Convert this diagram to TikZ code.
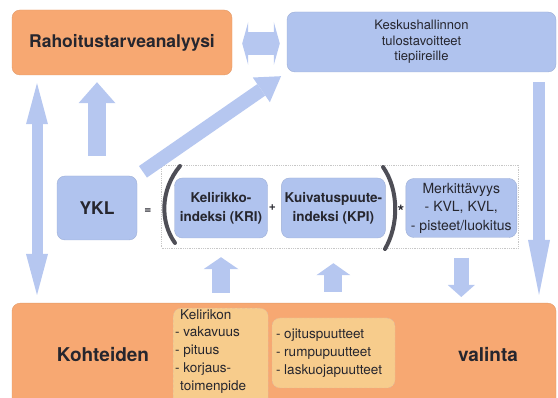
\documentclass[tikz,border=0pt]{standalone}
\usepackage{fontspec}
\setmainfont{TeX Gyre Heros}
\usepackage{xcolor}
\definecolor{boxorange}{RGB}{247,168,114}
\definecolor{boxblue}{RGB}{176,195,238}
\definecolor{arrowblue}{RGB}{182,199,240}
\definecolor{suborange}{RGB}{247,204,140}
\definecolor{parengray}{RGB}{78,78,86}
\definecolor{textgray}{RGB}{38,38,46}
\usepackage{tikz}
\usetikzlibrary{arrows.meta, positioning}
\tikzset{
    panel/.style={
        rectangle, rounded corners=8pt,
        inner sep=2pt, align=center,
        text=textgray
    },
    obox/.style={
        panel,
        fill=boxorange, draw=boxorange!92!black
    },
    bbox/.style={
        panel,
        fill=boxblue, draw=boxblue!90!black
    },
    subbox/.style={rectangle, rounded corners=8pt, fill=suborange,
        draw=boxorange!80!black!60, densely dashed, inner sep=0pt},
    subtext/.style={align=left, inner sep=0pt, text=textgray,
        font=\fontsize{13.5}{17.8}\selectfont},
    dotframe/.style={rectangle, draw=black!22, densely dotted, thick, inner sep=0pt},
    op/.style={inner sep=0pt, text=textgray, font=\bfseries\fontsize{12}{14}\selectfont},
    idx/.style={bbox, minimum height=60pt, font=\bfseries\fontsize{13.5}{19}\selectfont},
    paren/.style={draw=parengray, line width=4pt, line cap=round},
    blk/.style n args={3}{
        draw=arrowblue, line width=#1,
        -{Triangle[width=#2, length=#3, line width=0pt]}
    },
    dblk/.style n args={3}{
        draw=arrowblue, line width=#1,
        {Triangle[width=#2, length=#3, line width=0pt]}-{Triangle[width=#2, length=#3, line width=0pt]}
    },
}

\begin{document}
\begin{tikzpicture}[x=1pt, y=-1pt]
    \clip (0,0) rectangle (558,398);
    % Draw top row
    \node[obox, minimum width=220pt, minimum height=65pt,
        font=\bfseries\fontsize{17.5}{20}\selectfont] (rah) at (122,42.5) {Rahoitustarveanalyysi};
    \node[bbox, minimum width=269pt, minimum height=60pt,
        font=\fontsize{13}{15.5}\selectfont] (kesk) at (421.5,42) {Keskushallinnon\\tulostavoitteet\\tiepiireille};

    % Draw index formula
    \node[dotframe, minimum width=357pt, minimum height=83pt] (frame) at (340,206.5) {};
    \node[bbox, minimum width=80pt, minimum height=64pt,
        font=\bfseries\fontsize{17.5}{20}\selectfont] (ykl) at (97,208) {YKL};
    \node[op] (eq) at (148,211) {=};
    \node[idx, minimum width=93pt] (kri) at (221,208) {Kelirikko-\\indeksi (KRI)};
    \node[idx, minimum width=104pt, right=13.5pt of kri] (kpi) {Kuivatuspuute-\\indeksi (KPI)};
    \node[op, right=1pt of kri] (plus) {+};
    \node[bbox, minimum width=111pt, minimum height=59pt, right=20pt of kpi,
        font=\fontsize{14}{18.5}\selectfont] (merk) {Merkittävyys\\- KVL, KVL,\\- pisteet/luokitus};
    \node[op, font=\bfseries\fontsize{17}{18}\selectfont] (times) at (401,211) {*};
    \draw[paren] (180,166) .. controls (160,190) and (160,222) .. (175,243);
    \draw[paren] (383,167) .. controls (399,190) and (399,225) .. (385,249);

    % Draw bottom row
    \node[obox, minimum width=544pt, minimum height=120pt, anchor=north] (kohde) at (284,303) {};
    \node[text=textgray, font=\bfseries\fontsize{19}{22}\selectfont] (kohteiden) at (103,355) {Kohteiden};
    \node[text=textgray, font=\bfseries\fontsize{19}{22}\selectfont] (valinta) at (488,355) {valinta};
    \node[subbox, anchor=north west, minimum width=95pt, minimum height=100pt] (keli) at (173,308) {};
    \node[subtext, anchor=north west] (kelitxt) at ([xshift=2pt, yshift=-1pt]keli.north west)
        {\hspace*{5pt}Kelirikon\\- vakavuus\\- pituus\\- korjaus-\\\hspace*{5pt}toimenpide};
    \node[subbox, minimum width=123pt, minimum height=70pt] (ojit) at (333.5,353) {};
    \node[subtext, anchor=west] (ojittxt) at ([xshift=4pt]ojit.west)
        {- ojituspuutteet\\- rumpupuutteet\\- laskuojapuutteet};

    % Draw block arrows
    \coordinate (lft) at (37,0);
    \coordinate (rgt) at (539,0);
    \draw[dblk={23pt}{43pt}{6pt}, shorten <=10pt, shorten >=7pt] ([yshift=-1pt]rah.east) -- ([yshift=-1.5pt]kesk.west);
    \draw[blk={18pt}{37pt}{21pt}, shorten <=20pt, shorten >=7pt] (ykl.north) -- (ykl.north |- rah.south);
    \draw[dblk={11pt}{22pt}{41pt}, shorten <=8pt, shorten >=8pt] (rah.south -| lft) -- (kohde.north -| lft);
    \draw[blk={12pt}{22pt}{55pt}, shorten <=10pt, shorten >=8pt] (kesk.south -| rgt) -- (kohde.north -| rgt);
    \draw[blk={14pt}{30pt}{24pt}, shorten <=7pt, shorten >=7pt] (ykl.north east) -- (kesk.south west);
    \draw[blk={18pt}{35pt}{12pt}, shorten <=10pt, shorten >=19pt] (kohde.north -| kri.south) -- (kri.south);
    \draw[blk={18pt}{34pt}{12pt}, shorten <=11pt, shorten >=25pt] (kohde.north -| kpi.south) -- (kpi.south);
    \draw[blk={15pt}{27pt}{12pt}, shorten <=20pt, shorten >=6pt] (merk.south) -- (kohde.north -| merk.south);
\end{tikzpicture}
\end{document}
